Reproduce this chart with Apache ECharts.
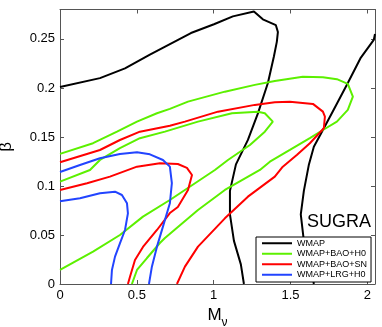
<!DOCTYPE html>
<html>
<head>
<meta charset="utf-8">
<script src="https://cdn.jsdelivr.net/npm/echarts@6/dist/echarts.min.js"></script>
<style>
  html, body { margin: 0; padding: 0; background: #fff; }
  #chart { width: 382px; height: 327px; }
</style>
</head>
<body>
<div id="chart"></div>
<script>
// contour lines, [M_nu, beta]
const wmapOuter = [[0, 0.201], [0.26, 0.210], [0.423, 0.220], [0.585, 0.234], [0.852, 0.256], [1.002, 0.265],
  [1.125, 0.273], [1.262, 0.278], [1.32, 0.270], [1.405, 0.264], [1.418, 0.257], [1.411, 0.247], [1.392, 0.232],
  [1.353, 0.205], [1.288, 0.174], [1.223, 0.147], [1.145, 0.122], [1.106, 0.095], [1.106, 0.071], [1.132, 0.044],
  [1.177, 0.020], [1.197, 0]];
const wmapRight = [[2.05, 0.255], [2.042, 0.249], [1.958, 0.231], [1.873, 0.205], [1.782, 0.178], [1.711, 0.157],
  [1.652, 0.140], [1.620, 0.122], [1.587, 0.095], [1.567, 0.071], [1.587, 0.044], [1.633, 0.020], [1.652, 0]];

const baoH0Outer = [[0, 0.1327], [0.215, 0.1436], [0.371, 0.1554], [0.501, 0.1656], [0.631, 0.1742], [0.715, 0.1786],
  [0.833, 0.186], [1.073, 0.1962], [1.268, 0.2031], [1.398, 0.2071], [1.580, 0.2115], [1.711, 0.2109], [1.802, 0.2089],
  [1.873, 0.2041], [1.906, 0.1911], [1.873, 0.1776], [1.802, 0.1656], [1.711, 0.1571], [1.626, 0.1487], [1.496, 0.1367],
  [1.366, 0.1248], [1.301, 0.1163], [1.073, 0.0959], [0.898, 0.0755], [0.683, 0.0469], [0.650, 0.0418], [0.566, 0.0265],
  [0.501, 0.0143], [0.468, 0]];
const baoH0Inner = [[0, 0.1044], [0.195, 0.1163], [0.26, 0.1265], [0.390, 0.1385], [0.520, 0.1487], [0.683, 0.1554],
  [0.898, 0.1656], [1.119, 0.1742], [1.288, 0.1758], [1.333, 0.1742], [1.385, 0.1656], [1.333, 0.1554], [1.236, 0.1418],
  [1.093, 0.1265], [1.008, 0.1163], [0.715, 0.0857], [0.540, 0.0687], [0.390, 0.050], [0.215, 0.033], [0, 0.0143]];

const baoSnOuter = [[0, 0.1242], [0.26, 0.1367], [0.390, 0.1469], [0.520, 0.1554], [0.715, 0.1615], [0.813, 0.1656],
  [1.028, 0.1758], [1.268, 0.1827], [1.398, 0.1854], [1.496, 0.186], [1.646, 0.1837], [1.711, 0.1758], [1.724, 0.1707],
  [1.717, 0.1589], [1.626, 0.1436], [1.541, 0.1316], [1.450, 0.1197], [1.398, 0.1095], [1.223, 0.0891], [1.073, 0.067],
  [0.898, 0.0381], [0.813, 0.0177], [0.761, 0]];
const baoSnInner = [[0, 0.0959], [0.176, 0.1028], [0.325, 0.1095], [0.501, 0.1197], [0.650, 0.1232], [0.767, 0.1224],
  [0.826, 0.1184], [0.859, 0.1112], [0.833, 0.0959], [0.767, 0.0786], [0.715, 0.0724], [0.631, 0.0551], [0.540, 0.0378],
  [0.488, 0.0245], [0.455, 0.0071], [0.442, 0]];

const lrgOuter = [[0, 0.1143], [0.130, 0.1214], [0.260, 0.1283], [0.390, 0.1327], [0.501, 0.1344], [0.585, 0.1323],
  [0.670, 0.1265], [0.715, 0.1197], [0.728, 0.1028], [0.715, 0.0823], [0.670, 0.0585], [0.631, 0.0381], [0.598, 0.0177],
  [0.579, 0]];
const lrgInner = [[0, 0.0844], [0.130, 0.0874], [0.260, 0.0926], [0.358, 0.0942], [0.403, 0.0908], [0.436, 0.0823],
  [0.442, 0.0721], [0.423, 0.0551], [0.390, 0.0415], [0.358, 0.0279], [0.338, 0.0143], [0.332, 0]];

const names = ['WMAP', 'WMAP+BAO+H0', 'WMAP+BAO+SN', 'WMAP+LRG+H0'];
const colors = ['#000000', '#5cf000', '#ff0000', '#2244ff'];
const lines = [[wmapOuter, wmapRight], [baoH0Outer, baoH0Inner], [baoSnOuter, baoSnInner], [lrgOuter, lrgInner]];

const font = 'Liberation Sans, Arial, Helvetica, sans-serif';
const axisCol = '#555';

let series = [];
lines.forEach((pair, i) => {
  pair.forEach(d => {
    series.push({
      name: names[i], type: 'line', data: d, symbol: 'none', smooth: false,
      lineStyle: {color: colors[i], width: 2}, itemStyle: {color: colors[i]},
      animation: false, silent: true
    });
  });
});

// only label the round ticks
const tickFmt = step => v => Math.abs(v / step - Math.round(v / step)) < 1e-6 ? String(+v.toFixed(2)) : '';

const frameAxis = {
  axisLine: {show: true, onZero: false, lineStyle: {color: axisCol, width: 1}},
  axisTick: {show: true, inside: true, length: 4, lineStyle: {color: axisCol}},
  splitLine: {show: false}
};

const chart = echarts.init(document.getElementById('chart'), null, {renderer: 'canvas'});
chart.setOption({
  backgroundColor: '#fff',
  animation: false,
  grid: {left: 60, right: 7, top: 9.5, bottom: 43, containLabel: false, outerBoundsMode: 'none'},
  xAxis: [Object.assign({
    type: 'value', min: 0, max: 2.05, interval: 0.5,
    name: '{m|M}{s|ν}', nameLocation: 'middle', nameGap: 16,
    nameTextStyle: {rich: {
      m: {fontSize: 17, fontFamily: font, color: '#000'},
      s: {fontSize: 12, fontFamily: font, color: '#000', padding: [14, 0, 0, 0]}
    }},
    axisLabel: {color: '#000', fontSize: 13, fontFamily: font, margin: 5, formatter: tickFmt(0.5)}
  }, frameAxis), Object.assign({
    type: 'value', position: 'top', min: 0, max: 2.05, interval: 0.5,
    axisLabel: {show: false}
  }, frameAxis)],
  yAxis: [Object.assign({
    type: 'value', min: 0, max: 0.28, interval: 0.05,
    name: 'β', nameLocation: 'middle', nameGap: 45,
    nameTextStyle: {fontSize: 17, fontFamily: font, color: '#000'},
    axisLabel: {color: '#000', fontSize: 13, fontFamily: font, margin: 5, formatter: tickFmt(0.05)}
  }, frameAxis), Object.assign({
    type: 'value', position: 'right', min: 0, max: 0.28, interval: 0.05,
    axisLabel: {show: false}
  }, frameAxis)],
  legend: {
    data: names, orient: 'vertical', left: 256, top: 237,
    padding: [1, 4, 2, 6], itemGap: 0, itemWidth: 30, itemHeight: 2, icon: 'rect',
    backgroundColor: '#fff', borderColor: '#000', borderWidth: 1,
    textStyle: {fontSize: 9, lineHeight: 10.5, fontFamily: font, color: '#000'},
    selectedMode: false
  },
  graphic: [{
    type: 'text', left: 307, top: 213,
    style: {text: 'SUGRA', fontSize: 18, fontFamily: font, fill: '#000'}
  }],
  series: series
});
</script>
</body>
</html>
